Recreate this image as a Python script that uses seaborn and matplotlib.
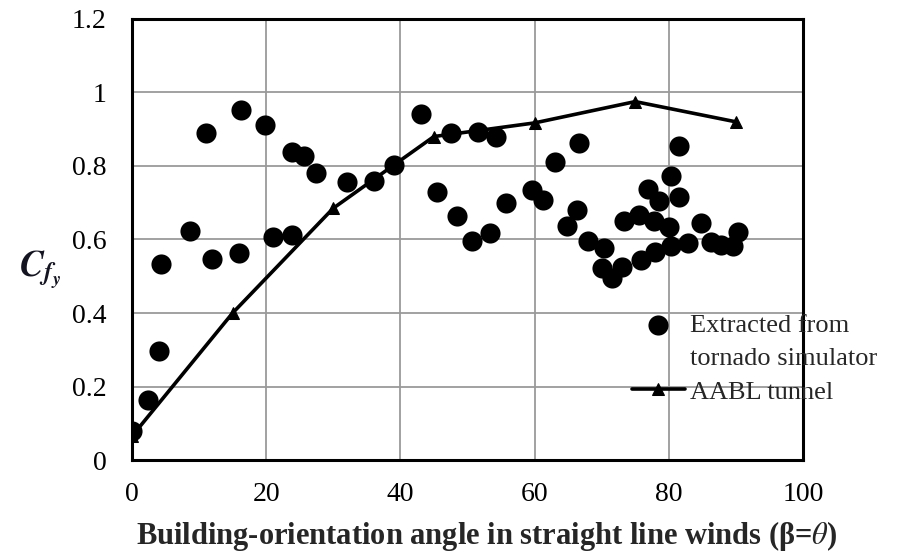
import matplotlib
matplotlib.use("Agg")
import matplotlib.pyplot as plt
from matplotlib.lines import Line2D
import seaborn as sns
import pandas as pd

# Extracted from tornado simulator
sim_x = [0.0, 2.4, 4.0, 4.3, 8.7, 11.0, 12.0, 16.0, 16.2, 19.8, 21.0, 23.8, 23.8, 25.7,
         27.5, 32.0, 36.0, 39.0, 43.1, 45.4, 47.5, 48.5, 50.7, 51.5, 53.4, 54.2, 55.8,
         59.6, 61.3, 63.1, 64.9, 66.3, 66.6, 67.9, 70.0, 70.4, 71.5, 73.1, 73.4, 75.5,
         75.8, 76.9, 77.8, 77.9, 78.5, 80.0, 80.4, 80.4, 81.5, 81.5, 82.8, 84.8, 86.3,
         87.8, 89.6, 90.3]
sim_y = [0.079, 0.163, 0.297, 0.533, 0.623, 0.889, 0.546, 0.563, 0.952, 0.912, 0.606,
         0.839, 0.612, 0.827, 0.780, 0.757, 0.759, 0.803, 0.941, 0.730, 0.889, 0.664,
         0.596, 0.892, 0.617, 0.880, 0.700, 0.735, 0.708, 0.812, 0.636, 0.680, 0.862,
         0.596, 0.522, 0.577, 0.496, 0.524, 0.649, 0.666, 0.544, 0.736, 0.649, 0.565,
         0.704, 0.634, 0.773, 0.583, 0.853, 0.716, 0.590, 0.644, 0.594, 0.586, 0.581,
         0.621]

# AABL tunnel
aabl_x = [0, 15, 30, 45, 60, 75, 90]
aabl_y = [0.065, 0.40, 0.685, 0.88, 0.917, 0.975, 0.92]

x_ticks = [0, 20, 40, 60, 80, 100]
y_ticks = [0, 0.2, 0.4, 0.6, 0.8, 1.0, 1.2]
y_tick_labels = ["0", "0.2", "0.4", "0.6", "0.8", "1", "1.2"]

sns.set_style("white")
plt.rcParams["font.family"] = ["Liberation Serif", "DejaVu Serif"]
plt.rcParams["mathtext.fontset"] = "stix"

fig = plt.figure(figsize=(9.02, 5.55), dpi=100)
ax = fig.add_axes([0.1463, 0.171, 0.7439, 0.795])

sim_df = pd.DataFrame({"x": sim_x, "y": sim_y})
aabl_df = pd.DataFrame({"x": aabl_x, "y": aabl_y})

sns.lineplot(data=aabl_df, x="x", y="y", ax=ax, color="black", linewidth=2.6,
             marker="^", markersize=9, markeredgecolor="black",
             label="AABL tunnel", zorder=3)
sns.scatterplot(data=sim_df, x="x", y="y", ax=ax, color="black", s=210,
                edgecolor="black", linewidth=0, label="Extracted from",
                zorder=4)

ax.set_xlim(0, 100)
ax.set_ylim(0, 1.2)
ax.set_xticks(x_ticks)
ax.set_yticks(y_ticks)
ax.set_yticklabels(y_tick_labels)
ax.grid(True, color="#9a9a9a", linewidth=1.3)
ax.set_axisbelow(True)
for s in ax.spines.values():
    s.set_color("black")
    s.set_linewidth(2.2)
    s.set_visible(True)
ax.tick_params(axis="both", direction="inout", length=13, width=1.8, color="black",
               labelsize=20, labelcolor="black")
ax.tick_params(axis="x", pad=9)
ax.tick_params(axis="y", pad=12)

ax.set_xlabel(r"Building-orientation angle in straight line winds (β=$\theta$)",
              fontsize=22, fontweight="bold")
ax.xaxis.set_label_coords(0.528, -0.172)
ax.xaxis.label.set_va("center")
ax.set_ylabel(r"$\mathbfit{C}_{\mathbfit{f}_{\mathbfit{y}}}$", fontsize=26,
              rotation=0, color="#141420", ha="center", va="center")
ax.yaxis.set_label_coords(-0.137, 0.43)

handles, labels = ax.get_legend_handles_labels()
blank = Line2D([], [], linestyle="none", marker="none")
leg = ax.legend([handles[1], blank, handles[0]],
                ["Extracted from", "tornado simulator", "AABL tunnel"],
                loc="upper left", bbox_to_anchor=(0.745, 0.333), frameon=False,
                fontsize=19, borderpad=0, handletextpad=0.2, handlelength=2.0,
                labelspacing=0.38, borderaxespad=0)

fig.savefig("out.png", dpi=100)
